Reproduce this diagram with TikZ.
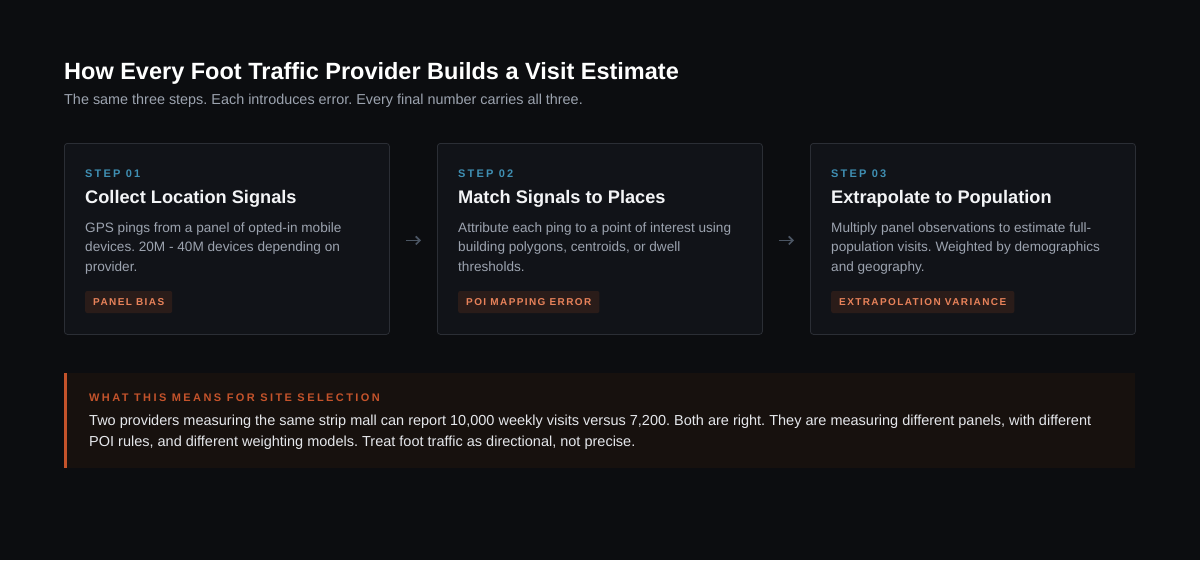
\documentclass[tikz,border=0pt]{standalone}
\usepackage{fontspec}
\setmainfont{Liberation Sans}
\frenchspacing
\usetikzlibrary{arrows.meta,positioning}
\definecolor{bg}{HTML}{0C0D10}
\definecolor{cardfill}{HTML}{111318}
\definecolor{cardline}{HTML}{2B2E35}
\definecolor{steptxt}{HTML}{3F8FB3}
\definecolor{titletxt}{HTML}{F3F4F6}
\definecolor{bodytxt}{HTML}{9CA3AF}
\definecolor{badgefill}{HTML}{2A1C19}
\definecolor{badgetxt}{HTML}{E8825A}
\definecolor{arrowc}{HTML}{4B5563}
\definecolor{callfill}{HTML}{17110E}
\definecolor{callbar}{HTML}{C4532B}
\definecolor{calltxt}{HTML}{E5E7EB}
\definecolor{subtxt}{HTML}{9CA3AF}
\tikzset{
  card/.style={draw=cardline, fill=cardfill, rounded corners=3pt, line width=0.8pt, minimum width=325pt, minimum height=191pt, inner sep=0pt},
  steplbl/.style={anchor=base west, inner sep=0pt, text=steptxt, font=\fontsize{11}{13}\selectfont\bfseries\addfontfeature{LetterSpace=20}},
  cardtitle/.style={anchor=base west, inner sep=0pt, text=titletxt, font=\fontsize{18.2}{21}\selectfont\bfseries},
  cardbody/.style={anchor=base west, inner sep=0pt, text=bodytxt, font=\fontsize{13.6}{19.5}\selectfont, align=left},
  badge/.style={anchor=west, fill=badgefill, text=badgetxt, rounded corners=2pt, inner xsep=8pt, minimum height=22pt, font=\fontsize{10}{12}\selectfont\bfseries\addfontfeature{LetterSpace=14}},
  flow/.style={draw=arrowc, line width=1.7pt, -{Straight Barb[length=4pt,width=8pt]}},
}
\begin{document}
\begin{tikzpicture}[x=1pt,y=-1pt]
\fill[bg] (0,0) rectangle (1200,560);
\useasboundingbox (0,0) rectangle (1200,560);
% title
\node[anchor=base west, inner sep=0pt, text=white, font=\fontsize{23.5}{27}\selectfont\bfseries] (title) at (64,79) {How Every Foot Traffic Provider Builds a Visit Estimate};
\node[anchor=base west, inner sep=0pt, text=subtxt, font=\fontsize{14.4}{16}\selectfont] (sub) at (64,104) {The same three steps. Each introduces error. Every final number carries all three.};
% cards
\node[card, anchor=north west] (c1) at (64,143) {};
\node[card, anchor=north west] (c2) at (437,143) {};
\node[card, anchor=north west] (c3) at (810,143) {};
% card 1
\node[steplbl] (s1) at (85,177) {STEP 01};
\node[cardtitle] (t1) at (85,203) {Collect Location Signals};
\node[cardbody] (b1) at (85,271) {GPS pings from a panel of opted-in mobile\\devices. 20M - 40M devices depending on\\provider.};
\node[badge] (g1) at (85,302) {PANEL BIAS};
% card 2
\node[steplbl] (s2) at (458,177) {STEP 02};
\node[cardtitle] (t2) at (458,203) {Match Signals to Places};
\node[cardbody] (b2) at (458,271) {Attribute each ping to a point of interest using\\building polygons, centroids, or dwell\\thresholds.};
\node[badge] (g2) at (458,302) {POI MAPPING ERROR};
% card 3
\node[steplbl] (s3) at (831,177) {STEP 03};
\node[cardtitle] (t3) at (831,203) {Extrapolate to Population};
\node[cardbody] (b3) at (831,271) {Multiply panel observations to estimate full-\\population visits. Weighted by demographics\\and geography.};
\node[badge] (g3) at (831,302) {EXTRAPOLATION VARIANCE};
% arrows
\draw[flow] ([xshift=16pt,yshift=-1.5pt]c1.east) -- ([xshift=-16pt,yshift=-1.5pt]c2.west);
\draw[flow] ([xshift=16pt,yshift=-1.5pt]c2.east) -- ([xshift=-16pt,yshift=-1.5pt]c3.west);
% callout
\node[fill=callfill, anchor=north west, minimum width=1071pt, minimum height=95pt, inner sep=0pt] (call) at (64,373) {};
\fill[callbar] (call.north west) rectangle ([xshift=3pt]call.south west);
\node[anchor=base west, inner sep=0pt, text=callbar, font=\fontsize{11}{13}\selectfont\bfseries\addfontfeature{LetterSpace=22}] (ch) at (89,401) {WHAT THIS MEANS FOR SITE SELECTION};
\node[anchor=base west, inner sep=0pt, text=calltxt, font=\fontsize{14.5}{21}\selectfont, align=left] (cb) at (89,446) {Two providers measuring the same strip mall can report 10,000 weekly visits versus 7,200. Both are right. They are measuring different panels, with different\\POI rules, and different weighting models. Treat foot traffic as directional, not precise.};
\end{tikzpicture}
\end{document}
